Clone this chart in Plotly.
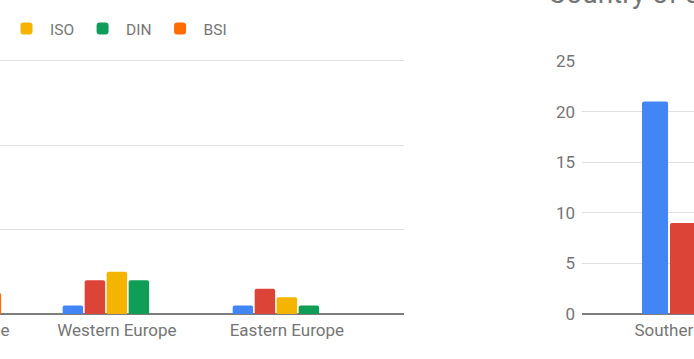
import plotly.graph_objects as go

# ---------------- data ----------------
left_categories = ["Southern Europe", "Western Europe", "Eastern Europe"]
series_names = ["EN", "IEC", "ISO", "DIN", "BSI"]
series_colors = ["#4285F4", "#DB4437", "#F4B400", "#0F9D58", "#FF6D00"]
left_en = [None, 2, 2]
left_iec = [None, 8, 6]
left_iso = [None, 10, 4]
left_din = [None, 8, 2]
left_bsi = [5, 0, 0]
left_ticks = [0, 20, 40, 60]

right_title = "Country of origin"
right_categories = ["Southern Europe"]
right_en = [21]
right_iec = [9]
right_iso = [None]
right_din = [None]
right_ticks = [0, 5, 10, 15, 20, 25]

# ---------------- geometry (page is a crop of a wider sheet) ----------------
W, H = 1064, 389
L, T = 220, 30  # how far the visible window is shifted into the canvas


def fx(sx):
    return (sx + L) / W


def fy(sy):
    return 1 - (sy + T) / H


FONT = "Roboto"
GREY = "#757575"
LEFT_PX_PER_UNIT = (314 - 61) / 60.0

fig = go.Figure()

left_series = [left_en, left_iec, left_iso, left_din, left_bsi]
for name, col, vals in zip(series_names, series_colors, left_series):
    fig.add_trace(go.Bar(
        x=left_categories, y=vals, name=name,
        marker=dict(color=col, line=dict(width=0), cornerradius=2),
        xaxis="x", yaxis="y", legend="legend",
    ))

right_series = [right_en, right_iec, right_iso, right_din]
for name, col, vals in zip(series_names[:4], series_colors[:4], right_series):
    fig.add_trace(go.Bar(
        x=right_categories, y=vals, name=name,
        marker=dict(color=col, line=dict(width=0), cornerradius=2),
        xaxis="x2", yaxis="y2", showlegend=False,
    ))

axis_common = dict(showline=False, ticks="", automargin=False,
                   tickfont=dict(family=FONT, size=17, color=GREY))
yaxis_common = dict(
    showgrid=True, gridcolor="#e0e0e0", gridwidth=1,
    zeroline=True, zerolinecolor="#7d7d7d", zerolinewidth=1.5,
    showline=False, ticks="", automargin=False,
    tickfont=dict(family=FONT, size=17, color=GREY),
    ticklabelstandoff=6,
)

fig.update_layout(
    width=W, height=H, autosize=False,
    margin=dict(l=0, r=0, t=0, b=0, pad=0, autoexpand=False),
    paper_bgcolor="white", plot_bgcolor="white",
    barmode="group", bargap=0.353, bargroupgap=0.07,
    font=dict(family=FONT, color=GREY),
    xaxis=dict(domain=[fx(-170.4), fx(404.2)], range=[-0.69, 2.69], type="category",
               anchor="y", showgrid=False, ticklabelstandoff=4, **axis_common),
    yaxis=dict(domain=[fy(314), fy(61 - 2 * LEFT_PX_PER_UNIT)], range=[0, 62], tickvals=left_ticks,
               anchor="x", **yaxis_common),
    xaxis2=dict(domain=[fx(582), fx(812)], range=[-0.665, 0.665], type="category",
                anchor="y2", showgrid=False, ticklabelstandoff=4, **axis_common),
    yaxis2=dict(domain=[fy(314), fy(61)], range=[0, 25], tickvals=right_ticks,
                anchor="x2", **yaxis_common),
    legend=dict(orientation="h", x=fx(232), xanchor="right", y=fy(29), yanchor="middle",
                itemwidth=37,
                font=dict(family=FONT, size=15.5, color=GREY), bgcolor="rgba(0,0,0,0)"),
    annotations=[dict(text=right_title, xref="paper", yref="paper", x=fx(546), y=fy(-6),
                      xanchor="left", yanchor="middle", showarrow=False,
                      font=dict(family=FONT, size=28, color=GREY))],
)

post = (
    "var d=document.getElementById('{plot_id}');"
    "d.style.position='absolute';d.style.left='-%dpx';d.style.top='-%dpx';"
    "document.body.style.margin='0';document.body.style.overflow='hidden';"
    "document.documentElement.style.overflow='hidden';" % (L, T)
)
fig.write_html("out.html", post_script=post)
